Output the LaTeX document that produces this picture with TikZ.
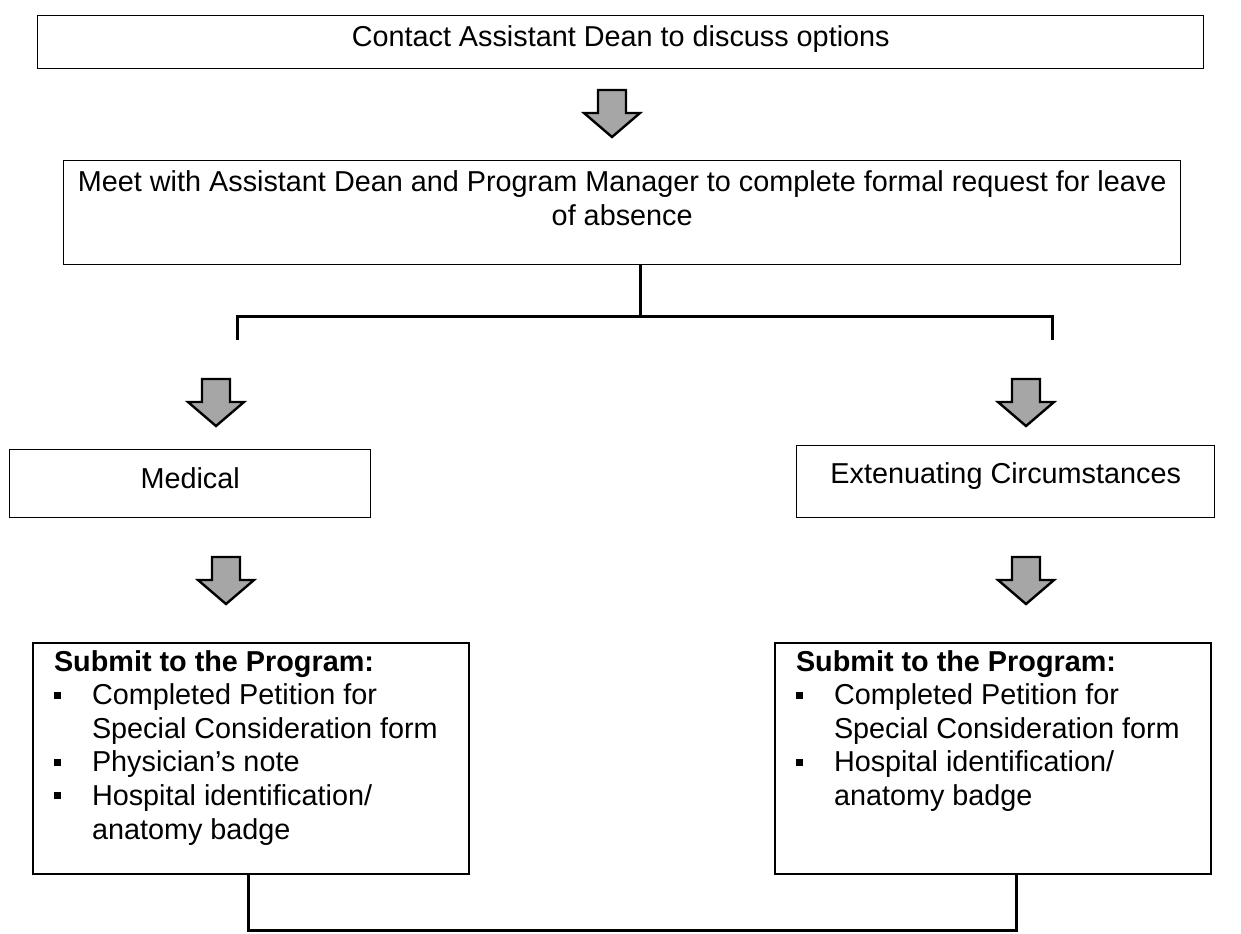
\documentclass[tikz,border=0pt]{standalone}
\usepackage{fontspec}
\setmainfont{Liberation Sans}
\definecolor{arrGray}{RGB}{166,166,166}
\newcommand{\boxtext}[4]{\parbox[c][#2][t]{#1}{\centering\rule{0pt}{#3}#4}}
\newcommand{\sqbul}{\rule[3pt]{3.5pt}{3.5pt}}
\newcommand{\sqitem}[1]{{\hangindent=19pt\hangafter=1\noindent\makebox[19pt][l]{\sqbul}#1\par}}
\newcommand{\listtext}[1]{\parbox[c][115.5pt][t]{218pt}{\raggedright\leftskip=10.5pt
    \rule{0pt}{14pt}\textbf{Submit to the Program:}\par #1}}
\tikzset{
    base/.style={font=\fontsize{14.4}{16.8}\selectfont, inner sep=0pt},
    stepbox/.style={base, rectangle, draw=black, line width=0.7pt},
    listbox/.style={base, rectangle, draw=black, line width=1pt},
    link/.style={line width=1.5pt, color=black},
    downarw/.pic={\draw[line width=1.2pt, fill=arrGray, line join=miter]
        (-14,0) -- (14,0) -- (14,23) -- (28,23) -- (0,47) -- (-28,23) -- (-14,23) -- cycle;}
}

\begin{document}
\begin{tikzpicture}[x=0.5pt, y=-0.5pt]
    \useasboundingbox (0,0) rectangle (1241,933);

    % Step boxes
    \node[stepbox, anchor=north west] (contact) at (37,15)
        {\boxtext{583pt}{26.5pt}{15.5pt}{Contact Assistant Dean to discuss options}};
    \node[stepbox, anchor=north west] (meet) at (63,160)
        {\boxtext{558.5pt}{52pt}{15.5pt}{Meet with Assistant Dean and Program Manager to complete formal request for leave\\ of absence}};
    \node[stepbox, anchor=north west] (medical) at (9,449)
        {\boxtext{180.5pt}{34pt}{19.5pt}{Medical}};
    \node[stepbox, anchor=north west] (extenuating) at (796,445)
        {\boxtext{209pt}{36pt}{19pt}{Extenuating Circumstances}};

    % Submission lists
    \node[listbox, anchor=north west] (medsub) at (32,642) {\listtext{%
        \sqitem{Completed Petition for\newline Special Consideration form}
        \sqitem{Physician’s note}
        \sqitem{Hospital identification/\newline anatomy badge}}};
    \node[listbox, anchor=north west] (extsub) at (774,642) {\listtext{%
        \sqitem{Completed Petition for\newline Special Consideration form}
        \sqitem{Hospital identification/\newline anatomy badge}}};

    % Block arrows
    \pic (arrTop) at (612,90) {downarw};
    \pic (arrMedA) at (216,379) {downarw};
    \pic (arrExtA) at (1026,379) {downarw};
    \pic (arrMedB) at (226,557) {downarw};
    \pic (arrExtB) at (1026,557) {downarw};

    % Fork under the meeting box
    \coordinate (fork) at (640,316);
    \coordinate (dropL) at (237,340);
    \coordinate (dropR) at (1052,340);
    \draw[link] (fork |- meet.south) -- (fork);
    \draw[link] (dropL) -- (dropL |- fork) -- (dropR |- fork) -- (dropR);

    % Join under the lists
    \coordinate (joinL) at (248,930);
    \coordinate (joinR) at (1016,930);
    \draw[link] (joinL |- medsub.south) -- (joinL) -- (joinR) -- (joinR |- extsub.south);
\end{tikzpicture}
\end{document}
